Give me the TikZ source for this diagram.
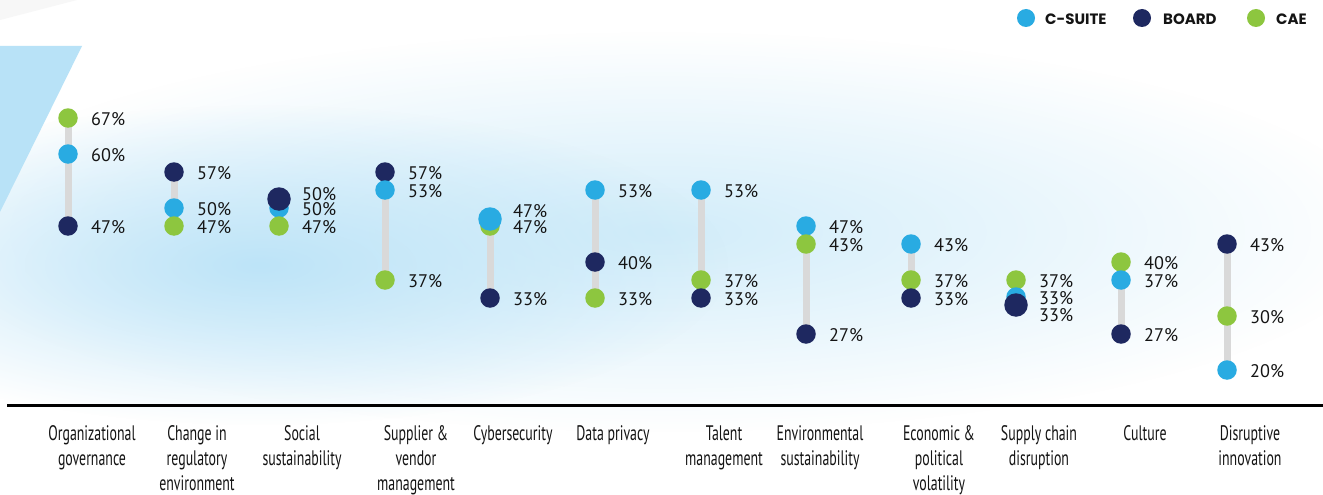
\documentclass[tikz,border=0pt]{standalone}
\usepackage{fontspec}
\setmainfont{PT Sans}
\newfontfamily\pctfont{PT Sans}
\newfontfamily\catfont[FakeStretch=0.66]{PT Sans}
\newfontfamily\legfont{Poppins}
\usetikzlibrary{fadings}
\tikzfading[name=myglow, inner color=transparent!0, outer color=transparent!100]
\definecolor{csuite}{HTML}{29ABE2}
\definecolor{board}{HTML}{1E2860}
\definecolor{cae}{HTML}{8DC63F}
\definecolor{barg}{HTML}{D9D9D9}
\definecolor{txt}{HTML}{141414}
\definecolor{glowa}{HTML}{D2EDFA}
\definecolor{glowb}{HTML}{BDE4F8}
\definecolor{tri}{HTML}{B8E2F7}
\pgfdeclarelayer{back}
\pgfdeclarelayer{bars}
\pgfsetlayers{back,bars,main}
\begin{document}
\begin{tikzpicture}[x=1pt,y=-1pt,
  dot/.style={circle,inner sep=0pt,minimum size=19.5pt},
  bigdot/.style={circle,inner sep=0pt,minimum size=23.5pt},
  cs/.style={dot,fill=csuite},
  bd/.style={dot,fill=board},
  ca/.style={dot,fill=cae},
  pct/.style={anchor=west,inner sep=0pt,font=\pctfont\fontsize{18.2}{19}\selectfont,text=txt},
  cat/.style={anchor=north,align=center,inner sep=0pt,font=\catfont\fontsize{21}{25}\selectfont,text=txt},
  leg/.style={anchor=west,inner sep=0pt,font=\legfont\bfseries\fontsize{15}{16}\selectfont,text=txt},
  bar/.style={draw=barg,line width=7pt}]
\useasboundingbox (0,0) rectangle (1323,495);
\begin{pgfonlayer}{back}
  \fill[white] (0,0) rectangle (1323,495);
  \fill[black!3] (0,0) -- (77,0) -- (0,20) -- cycle;
  \fill[glowa,path fading=myglow] (660,232) ellipse (730 and 200);
  \fill[glowb,path fading=myglow] (260,265) ellipse (470 and 160);
  \fill[tri] (0,46) -- (82,46) -- (0,212) -- cycle;
\end{pgfonlayer}

% legend
\node[cs,minimum size=18pt] (lcs) at (1026,18) {};
\node[leg] (lcst) at (1045,19) {C-SUITE};
\node[bd,minimum size=18pt] (lbd) at (1142,18) {};
\node[leg] (lbdt) at (1163,19) {BOARD};
\node[ca,minimum size=18pt] (lca) at (1256,18) {};
\node[leg] (lcat) at (1276,19) {CAE};

% baseline
\coordinate (bl0) at (7,405.5);
\coordinate (bl1) at (1323,405.5);
\draw[line width=2.8pt,black] (bl0) -- (bl1);

% column 1
\node[ca] (a1) at (68,118) {};
\node[cs] (c1) at (68,154) {};
\node[bd] (b1) at (68,226) {};
\node[pct] (a1t) at (91,119) {67\%};
\node[pct] (c1t) at (91,155) {60\%};
\node[pct] (b1t) at (91,227) {47\%};
% column 2
\node[bd] (b2) at (174,172) {};
\node[cs] (c2) at (174,208) {};
\node[ca] (a2) at (174,226) {};
\node[pct] (b2t) at (197,173) {57\%};
\node[pct] (c2t) at (197,209) {50\%};
\node[pct] (a2t) at (197,227) {47\%};
% column 3
\node[cs] (c3) at (279,208) {};
\node[ca] (a3) at (279,226) {};
\node[bd,bigdot] (b3) at (279,199) {};
\node[pct] (b3t) at (302,194) {50\%};
\node[pct] (c3t) at (302,209) {50\%};
\node[pct] (a3t) at (302,227) {47\%};
% column 4
\node[bd] (b4) at (385,172) {};
\node[cs] (c4) at (385,190) {};
\node[ca] (a4) at (385,280) {};
\node[pct] (b4t) at (408,173) {57\%};
\node[pct] (c4t) at (408,191) {53\%};
\node[pct] (a4t) at (408,281) {37\%};
% column 5
\node[ca] (a5) at (490,226) {};
\node[cs,bigdot] (c5) at (490,219) {};
\node[bd] (b5) at (490,298) {};
\node[pct] (c5t) at (513,211) {47\%};
\node[pct] (a5t) at (513,227) {47\%};
\node[pct] (b5t) at (513,299) {33\%};
% column 6
\node[cs] (c6) at (595,190) {};
\node[bd] (b6) at (595,262) {};
\node[ca] (a6) at (595,298) {};
\node[pct] (c6t) at (618,191) {53\%};
\node[pct] (b6t) at (618,263) {40\%};
\node[pct] (a6t) at (618,299) {33\%};
% column 7
\node[cs] (c7) at (701,190) {};
\node[ca] (a7) at (701,280) {};
\node[bd] (b7) at (701,298) {};
\node[pct] (c7t) at (724,191) {53\%};
\node[pct] (a7t) at (724,281) {37\%};
\node[pct] (b7t) at (724,299) {33\%};
% column 8
\node[cs] (c8) at (806,226) {};
\node[ca] (a8) at (806,244) {};
\node[bd] (b8) at (806,334) {};
\node[pct] (c8t) at (829,227) {47\%};
\node[pct] (a8t) at (829,245) {43\%};
\node[pct] (b8t) at (829,335) {27\%};
% column 9
\node[cs] (c9) at (911,244) {};
\node[ca] (a9) at (911,280) {};
\node[bd] (b9) at (911,298) {};
\node[pct] (c9t) at (934,245) {43\%};
\node[pct] (a9t) at (934,281) {37\%};
\node[pct] (b9t) at (934,299) {33\%};
% column 10
\node[ca] (a10) at (1016,280) {};
\node[cs] (c10) at (1016,297) {};
\node[bd,bigdot] (b10) at (1016,305) {};
\node[pct] (a10t) at (1039,281) {37\%};
\node[pct] (c10t) at (1039,298) {33\%};
\node[pct] (b10t) at (1039,315) {33\%};
% column 11
\node[ca] (a11) at (1121,262) {};
\node[cs] (c11) at (1121,280) {};
\node[bd] (b11) at (1121,334) {};
\node[pct] (a11t) at (1144,263) {40\%};
\node[pct] (c11t) at (1144,281) {37\%};
\node[pct] (b11t) at (1144,335) {27\%};
% column 12
\node[bd] (b12) at (1227,244) {};
\node[ca] (a12) at (1227,316) {};
\node[cs] (c12) at (1227,370) {};
\node[pct] (b12t) at (1250,245) {43\%};
\node[pct] (a12t) at (1250,317) {30\%};
\node[pct] (c12t) at (1250,371) {20\%};

% bars
\begin{pgfonlayer}{bars}
  \draw[bar] (a1.center) -- (b1.center);
  \draw[bar] (b2.center) -- (a2.center);
  \draw[bar] (b3.center) -- (a3.center);
  \draw[bar] (b4.center) -- (a4.center);
  \draw[bar] (c5.center) -- (b5.center);
  \draw[bar] (c6.center) -- (a6.center);
  \draw[bar] (c7.center) -- (b7.center);
  \draw[bar] (c8.center) -- (b8.center);
  \draw[bar] (c9.center) -- (b9.center);
  \draw[bar] (a10.center) -- (b10.center);
  \draw[bar] (a11.center) -- (b11.center);
  \draw[bar] (b12.center) -- (c12.center);
\end{pgfonlayer}

% category labels
\node[cat] (l1) at (92,425.5) {Organizational\\governance};
\node[cat] (l2) at (197,425.5) {Change in\\regulatory\\environment};
\node[cat] (l3) at (302,425.5) {Social\\sustainability};
\node[cat] (l4) at (416,425.5) {Supplier \&\\vendor\\management};
\node[cat] (l5) at (513,425.5) {Cybersecurity};
\node[cat] (l6) at (613,425.5) {Data privacy};
\node[cat] (l7) at (724,425.5) {Talent\\management};
\node[cat] (l8) at (820,425.5) {Environmental\\sustainability};
\node[cat] (l9) at (939,425.5) {Economic \&\\political\\volatility};
\node[cat] (l10) at (1039,425.5) {Supply chain\\disruption};
\node[cat] (l11) at (1145,425.5) {Culture};
\node[cat] (l12) at (1250,425.5) {Disruptive\\innovation};
\end{tikzpicture}
\end{document}
